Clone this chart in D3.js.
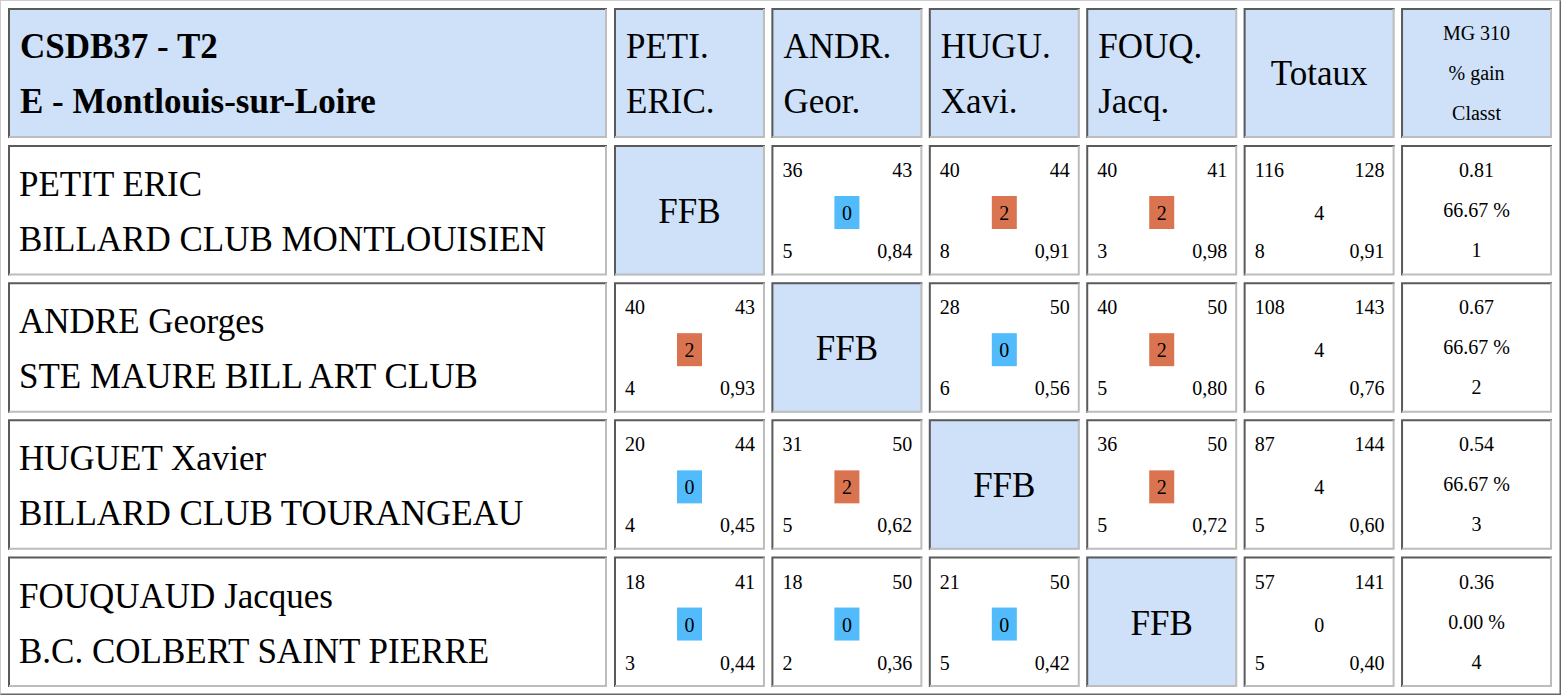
<!DOCTYPE html>
<html>
<head>
<meta charset="utf-8">
<script src="https://cdn.jsdelivr.net/npm/d3@7"></script>
<style>
body { margin: 0; background: #fff; }
text { font-family: "Liberation Serif", "Times New Roman", serif; fill: #000; }
</style>
</head>
<body>
<svg id="chart" width="1561" height="695"></svg>
<script>
// title lines
var titleLines = ["CSDB37 - T2", "E - Montlouis-sur-Loire"];
var shortNames = [["PETI.", "ERIC."], ["ANDR.", "Geor."], ["HUGU.", "Xavi."], ["FOUQ.", "Jacq."]];
var players = ["PETIT ERIC", "ANDRE Georges", "HUGUET Xavier", "FOUQUAUD Jacques"];
var clubs = ["BILLARD CLUB MONTLOUISIEN", "STE MAURE BILL ART CLUB", "BILLARD CLUB TOURANGEAU", "B.C. COLBERT SAINT PIERRE"];
var lastHeader = ["MG 310", "% gain", "Classt"];

// per match: [points, distance, match points, innings, average]; null = diagonal
var matches = [
  [null, [36,43,0,5,"0,84"], [40,44,2,8,"0,91"], [40,41,2,3,"0,98"]],
  [[40,43,2,4,"0,93"], null, [28,50,0,6,"0,56"], [40,50,2,5,"0,80"]],
  [[20,44,0,4,"0,45"], [31,50,2,5,"0,62"], null, [36,50,2,5,"0,72"]],
  [[18,41,0,3,"0,44"], [18,50,0,2,"0,36"], [21,50,0,5,"0,42"], null]
];
var totals = [[116,128,4,8,"0,91"], [108,143,4,6,"0,76"], [87,144,4,5,"0,60"], [57,141,0,5,"0,40"]];
var mg = ["0.81", "0.67", "0.54", "0.36"];
var gain = ["66.67 %", "66.67 %", "66.67 %", "0.00 %"];
var rank = ["1", "2", "3", "4"];

var svg = d3.select("#chart");
var headBg = "#cee1f8", blue = "#52bbfb", orange = "#da7450";

var cols = d3.range(6);
var x = d3.scaleBand().domain(cols).range([614, 1552]).paddingInner(0.041);
var y = d3.scaleBand().domain(d3.range(4)).range([145, 687]).paddingInner(0.049);
var firstX = 8, firstW = 599, headY = 8, headH = 130;

// outer frame
svg.append("rect").attr("x", 0.5).attr("y", 0.5).attr("width", 1560).attr("height", 694).attr("fill", "#fff").attr("stroke", "#ccc");
svg.append("path").attr("d", "M1560.5,0.5V694.5H0.5").attr("fill", "none").attr("stroke", "#666").attr("stroke-width", 2);

function cell(x0, y0, w, h, fill) {
  var g = svg.append("g");
  g.append("rect").attr("x", x0).attr("y", y0).attr("width", w).attr("height", h).attr("fill", fill);
  g.append("path").attr("d", "M" + (x0 + 1) + "," + (y0 + h) + "V" + (y0 + 1) + "H" + (x0 + w))
    .attr("fill", "none").attr("stroke", "#5a5a5a").attr("stroke-width", 2);
  g.append("path").attr("d", "M" + (x0 + 1) + "," + (y0 + h - 1) + "H" + (x0 + w - 1) + "V" + (y0 + 1))
    .attr("fill", "none").attr("stroke", "#bdbdbd").attr("stroke-width", 2);
  return g;
}
function txt(g, tx, ty, s, size, anchor, bold) {
  g.append("text").attr("x", tx).attr("y", ty).attr("font-size", size)
    .attr("text-anchor", anchor || "start").attr("font-weight", bold ? "bold" : "normal").text(s);
}

// header row
var h0 = cell(firstX, headY, firstW, headH, headBg);
titleLines.forEach(function (t, i) { txt(h0, firstX + 12, headY + 50 + i * 55, t, 35, "start", true); });
shortNames.forEach(function (n, i) {
  var g = cell(x(i), headY, x.bandwidth(), headH, headBg);
  n.forEach(function (t, j) { txt(g, x(i) + 12, headY + 50 + j * 55, t, 35); });
});
var gt = cell(x(4), headY, x.bandwidth(), headH, headBg);
txt(gt, x(4) + x.bandwidth() / 2, headY + 77, "Totaux", 35, "middle");
var gm = cell(x(5), headY, x.bandwidth(), headH, headBg);
lastHeader.forEach(function (t, j) { txt(gm, x(5) + x.bandwidth() / 2, headY + 32 + j * 40, t, 20, "middle"); });

function scoreCell(c, r, m, badge) {
  var x0 = x(c), y0 = y(r), w = x.bandwidth();
  var g = cell(x0, y0, w, y.bandwidth(), "#fff");
  txt(g, x0 + 11, y0 + 32, m[0], 20);
  txt(g, x0 + w - 10, y0 + 32, m[1], 20, "end");
  if (badge) {
    g.append("rect").attr("x", x0 + 63).attr("y", y0 + 51).attr("width", 25).attr("height", 33)
      .attr("fill", m[2] > 0 ? orange : blue);
  }
  txt(g, x0 + 75.5, y0 + 75, m[2], 20, "middle");
  txt(g, x0 + 11, y0 + 113, m[3], 20);
  txt(g, x0 + w - 10, y0 + 113, m[4], 20, "end");
}

players.forEach(function (p, r) {
  var g = cell(firstX, y(r), firstW, y.bandwidth(), "#fff");
  txt(g, firstX + 11, y(r) + 51, p, 35);
  txt(g, firstX + 11, y(r) + 106, clubs[r], 35);
  matches[r].forEach(function (m, c) {
    if (m === null) {
      var gf = cell(x(c), y(r), x.bandwidth(), y.bandwidth(), headBg);
      txt(gf, x(c) + x.bandwidth() / 2, y(r) + 78, "FFB", 35, "middle");
    } else scoreCell(c, r, m, true);
  });
  scoreCell(4, r, totals[r], false);
  var g6 = cell(x(5), y(r), x.bandwidth(), y.bandwidth(), "#fff");
  [mg[r], gain[r], rank[r]].forEach(function (t, j) {
    txt(g6, x(5) + x.bandwidth() / 2, y(r) + 32 + j * 40, t, 20, "middle");
  });
});
</script>
</body>
</html>
